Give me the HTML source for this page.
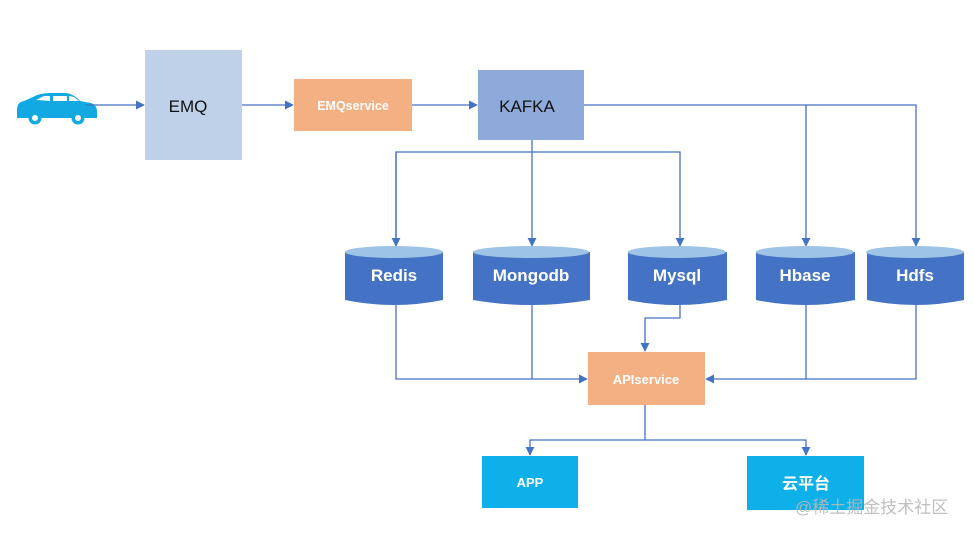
<!DOCTYPE html>
<html><head><meta charset="utf-8"><style>
body{margin:0;background:#fff;}
svg text{font-family:"Liberation Sans","Noto Sans CJK SC",sans-serif;}
</style></head><body>
<svg width="974" height="532" viewBox="0 0 974 532" xmlns="http://www.w3.org/2000/svg">
<defs>
<marker id="a" viewBox="0 0 10 10" refX="9" refY="5" markerWidth="7" markerHeight="7" orient="auto"><path d="M0,0 L10,5 L0,10 z" fill="#4472c4"/></marker>
</defs>
<rect width="974" height="532" fill="#fff"/>
<g fill="#12a9e3">
<path d="M17,110 Q17,102 24,101 L33,97 Q40,93 50,93 L66,93 Q74,94 80,101 L91,103 Q97,105 97,112 L97,118 L17,118 Z"/>
<circle cx="35" cy="118" r="6.5"/><circle cx="78" cy="118" r="6.5"/>
</g>
<g fill="#fff"><path d="M36,100 L44,96 L50,96 L50,101 Z"/><rect x="53" y="96" width="14" height="5"/><path d="M69,96 L74,97 L79,101 L69,101 Z"/></g>
<circle cx="35" cy="118" r="3" fill="#fff"/><circle cx="78" cy="118" r="3" fill="#fff"/>
<g stroke="#4472c4" stroke-width="1.3" fill="none">
<line x1="85" y1="105" x2="144" y2="105" marker-end="url(#a)"/>
<line x1="242" y1="105" x2="293" y2="105" marker-end="url(#a)"/>
<line x1="412" y1="105" x2="477" y2="105" marker-end="url(#a)"/>
<polyline points="584,105 916,105 916,246" marker-end="url(#a)"/>
<line x1="806" y1="105" x2="806" y2="246" marker-end="url(#a)"/>
<line x1="532" y1="140" x2="532" y2="246" marker-end="url(#a)"/>
<polyline points="396,246 396,152 680,152 680,246" marker-end="url(#a)"/>
<line x1="396" y1="152" x2="396" y2="246" marker-end="url(#a)"/>
<polyline points="396,305 396,379 587,379" marker-end="url(#a)"/>
<line x1="532" y1="305" x2="532" y2="379"/>
<polyline points="680,305 680,318 645,318 645,351" marker-end="url(#a)"/>
<polyline points="916,305 916,379 706,379" marker-end="url(#a)"/>
<line x1="806" y1="305" x2="806" y2="379"/>
<polyline points="645,405 645,440 530,440 530,455" marker-end="url(#a)"/>
<polyline points="645,440 806,440 806,455" marker-end="url(#a)"/>
</g>
<rect x="145" y="50" width="97" height="110" fill="#bfd0e9"/>
<text x="188" y="112" font-size="17" text-anchor="middle" fill="#111">EMQ</text>
<rect x="294" y="79" width="118" height="52" fill="#f3b083"/>
<text x="353" y="110" font-size="12.5" font-weight="bold" text-anchor="middle" fill="#fff">EMQservice</text>
<rect x="478" y="70" width="106" height="70" fill="#8eaadb"/>
<text x="527" y="112" font-size="17" text-anchor="middle" fill="#111">KAFKA</text>
<g fill="#4472c4">
<path d="M345,252 L345,300 Q394,310 443,300 L443,252 Z"/><ellipse cx="394" cy="252" rx="49" ry="6" fill="#9dc3e6"/>
<path d="M473,252 L473,300 Q531,310 590,300 L590,252 Z"/><ellipse cx="531" cy="252" rx="58" ry="6" fill="#9dc3e6"/>
<path d="M628,252 L628,300 Q677,310 727,300 L727,252 Z"/><ellipse cx="677" cy="252" rx="49" ry="6" fill="#9dc3e6"/>
<path d="M756,252 L756,300 Q805,310 855,300 L855,252 Z"/><ellipse cx="805" cy="252" rx="49" ry="6" fill="#9dc3e6"/>
<path d="M867,252 L867,300 Q915,310 964,300 L964,252 Z"/><ellipse cx="915" cy="252" rx="49" ry="6" fill="#9dc3e6"/>
</g>
<g font-size="17" font-weight="bold" fill="#fff" text-anchor="middle">
<text x="394" y="281">Redis</text><text x="531" y="281">Mongodb</text><text x="677" y="281">Mysql</text><text x="805" y="281">Hbase</text><text x="915" y="281">Hdfs</text>
</g>
<rect x="588" y="352" width="117" height="53" fill="#f3b083"/>
<text x="646" y="384" font-size="13" font-weight="bold" text-anchor="middle" fill="#fff">APIservice</text>
<rect x="482" y="456" width="96" height="52" fill="#0eb0ea"/>
<text x="530" y="487" font-size="13" font-weight="bold" text-anchor="middle" fill="#fff">APP</text>
<rect x="747" y="456" width="117" height="54" fill="#0eb0ea"/>
<text x="806" y="489" font-size="16" font-weight="bold" text-anchor="middle" fill="#fff">云平台</text>
<text x="795" y="513" font-size="17" fill="#b8b8b8" fill-opacity="0.9">@稀土掘金技术社区</text>
</svg>
</body></html>
